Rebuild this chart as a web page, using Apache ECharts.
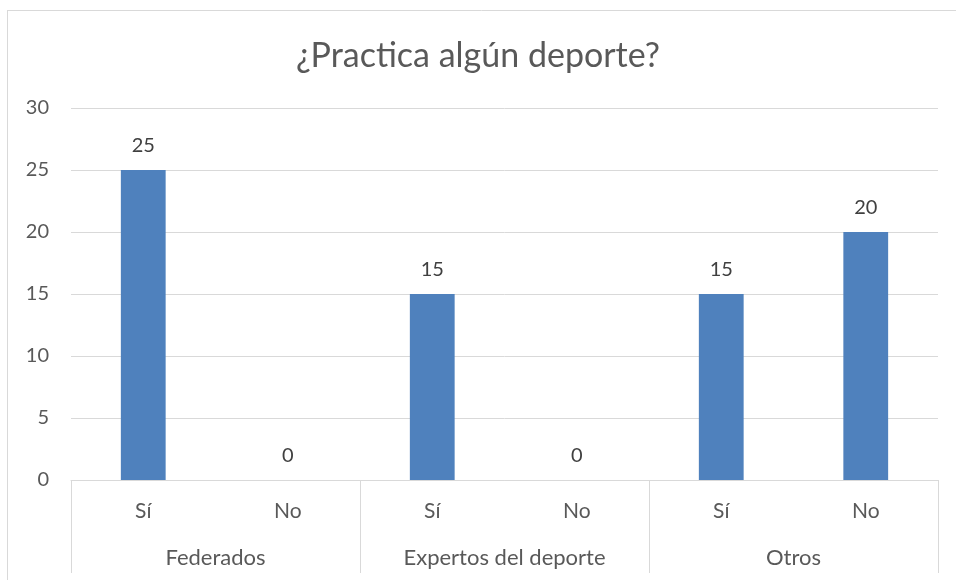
<!DOCTYPE html>
<html>
<head>
<meta charset="utf-8">
<script src="https://cdn.jsdelivr.net/npm/echarts@6/dist/echarts.min.js"></script>
<style>html,body{margin:0;padding:0;background:#fff}#c{width:956px;height:580px}</style>
</head>
<body>
<div id="c"></div>
<script>
var title = '¿Practica algún deporte?';
var categories = ['Sí', 'No', 'Sí', 'No', 'Sí', 'No'];
var groups = ['Federados', 'Expertos del deporte', 'Otros'];
var values = [25, 0, 15, 0, 15, 20];
var yTicks = [0, 5, 10, 15, 20, 25, 30];

var font = 'Lato';
var txt = '#595959';
var chart = echarts.init(document.getElementById('c'));
chart.setOption({
  animation: false,
  backgroundColor: '#fff',
  title: {
    text: title, left: 'center', top: 34,
    textStyle: { fontFamily: font, fontSize: 34, fontWeight: 'normal', color: txt }
  },
  grid: { left: 71, right: 18, top: 108, bottom: 100 },
  xAxis: [
    {
      type: 'category', data: categories, position: 'bottom',
      axisLine: { show: true, lineStyle: { color: '#D9D9D9', width: 1 } },
      axisTick: { show: false },
      axisLabel: { fontFamily: font, fontSize: 21, color: txt, margin: 21 }
    },
    {
      type: 'category', data: groups, position: 'bottom',
      axisLine: { show: false },
      axisTick: { show: true, length: 93, alignWithLabel: false, lineStyle: { color: '#D9D9D9' } },
      axisLabel: { fontFamily: font, fontSize: 22, color: txt, margin: 67 }
    }
  ],
  yAxis: {
    type: 'value', min: yTicks[0], max: yTicks[yTicks.length - 1], interval: 5,
    axisLine: { show: false }, axisTick: { show: false },
    axisLabel: { fontFamily: font, fontSize: 20, color: txt, margin: 22 },
    splitLine: { lineStyle: { color: '#D9D9D9', width: 1 } }
  },
  series: [{
    type: 'bar', data: values, xAxisIndex: 0, barWidth: '31%',
    itemStyle: { color: '#4F81BD' },
    label: { show: true, position: 'top', distance: 14, fontFamily: font, fontSize: 20, color: '#404040' }
  }],
  graphic: [
    { type: 'line', shape: { x1: 7, y1: 10.5, x2: 956, y2: 10.5 }, style: { stroke: '#D9D9D9', lineWidth: 1 } },
    { type: 'line', shape: { x1: 7.5, y1: 10, x2: 7.5, y2: 580 }, style: { stroke: '#D9D9D9', lineWidth: 1 } }
  ]
});
</script>
</body>
</html>
